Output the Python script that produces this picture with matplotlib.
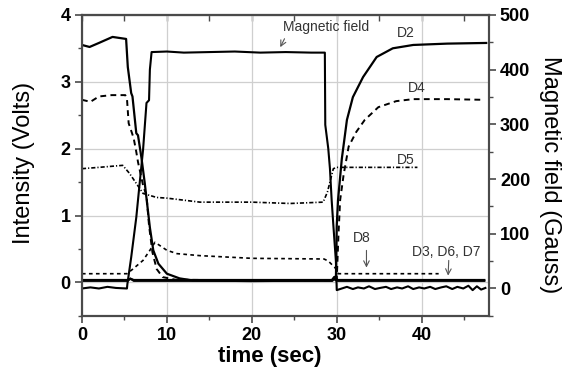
import matplotlib.pyplot as plt
from matplotlib.ticker import MultipleLocator

plt.rcParams['font.family'] = ['Liberation Sans', 'DejaVu Sans']

# magnetic field (Gauss, right axis)
t_field = [0, 1, 2, 3, 4, 5.3, 5.35, 5.8, 6.4, 6.8, 7.2, 7.6, 7.9, 8.0, 8.2, 10,
           12, 15, 18, 21, 24, 27, 28.6, 28.65, 29.0, 29.2, 29.4, 29.6, 29.9,
           30.0, 30.6, 31.2, 31.9, 32.5, 33.2, 33.8, 34.5, 35.1, 35.8, 36.4, 37.1,
           37.7, 38.4, 39.0, 39.7, 40.3, 41.0, 41.6, 42.3, 42.9, 43.6, 44.2,
           44.9, 45.5, 46.0, 46.5, 47.0, 47.5]
b_field = [0, 2, 0, 3, 1, 0, 8, 57, 130, 193, 254, 339, 344, 400, 432, 433,
           431, 432, 433, 431, 432, 431, 431, 299, 256, 219, 162, 116, 50,
           -3, 0, 3, -1, 2, 0, 4, -1, 1, 3, -1, 2, 0, 4, -1, 2, 0, 3, -1, 2,
           4, -1, 3, 0, 5, -3, 4, -2, 1]

# D2 (Volts)
t_d2 = [0, 0.9, 2, 3.6, 5.2, 5.4, 5.8, 5.95, 6.4, 6.6, 7.0, 7.4, 8.0, 8.4, 9.0,
        10.0, 11.5, 13, 20, 29.4, 29.7, 29.9, 30.0, 30.15, 30.6, 31.2, 31.9,
        33.1, 34.7, 36.6, 39, 43, 47.6]
v_d2 = [3.55, 3.52, 3.58, 3.67, 3.64, 3.22, 2.83, 2.78, 2.23, 2.2, 1.87, 1.48,
        0.82, 0.48, 0.28, 0.13, 0.06, 0.03, 0.02, 0.03, 0.08, 0.03, 0.85, 1.23,
        1.85, 2.43, 2.77, 3.07, 3.37, 3.5, 3.55, 3.57, 3.58]

# D4
t_d4 = [0, 1, 2, 3.5, 5.1, 5.3, 5.5, 5.9, 6.1, 6.4, 6.6, 7.2, 7.6, 7.9, 8.3,
        8.8, 9.5, 11, 20, 29.5, 30.0, 30.2, 30.4, 30.8, 31.4, 32.3, 33.3, 34.9,
        37.0, 39.0, 43, 47.3]
v_d4 = [2.73, 2.70, 2.78, 2.80, 2.80, 2.75, 2.38, 2.23, 2.15, 1.95, 1.8, 1.45,
        1.3, 0.85, 0.45, 0.2, 0.08, 0.04, 0.03, 0.03, 0.05, 0.7, 1.23, 1.6, 2.03,
        2.25, 2.43, 2.62, 2.71, 2.74, 2.74, 2.73]

# D5
t_d5 = [0, 2, 4.8, 5.6, 6.4, 7.2, 8.8, 10, 13.9, 20, 24.5, 28.4, 28.9, 29.3,
        29.6, 30.0, 35, 39.5]
v_d5 = [1.70, 1.72, 1.75, 1.63, 1.48, 1.33, 1.27, 1.26, 1.2, 1.2, 1.18, 1.2,
        1.35, 1.55, 1.7, 1.72, 1.72, 1.72]

# D8
t_d8 = [0, 5.3, 6.0, 7.2, 8.0, 8.6, 10, 11.2, 13.9, 20, 28.5, 29.0, 29.8, 30.2, 42]
v_d8 = [0.13, 0.13, 0.2, 0.33, 0.48, 0.6, 0.48, 0.43, 0.4, 0.36, 0.35, 0.32,
        0.22, 0.13, 0.13]

# D3, D6, D7 (nearly flat)
t_low = [0, 5.4, 5.7, 6.1, 29.5, 29.8, 30.1, 47.4]
v_d3 = [0.02, 0.02, 0.05, 0.02, 0.02, 0.07, 0.02, 0.02]
v_d6 = [0.03, 0.03, 0.06, 0.03, 0.03, 0.08, 0.03, 0.03]
v_d7 = [0.04, 0.04, 0.06, 0.04, 0.04, 0.09, 0.04, 0.04]

fig = plt.figure(figsize=(5.69, 3.81), dpi=100)
ax = fig.add_axes([0.144, 0.171, 0.715, 0.79])
ax2 = ax.twinx()

spine_c = '#4a4a4a'
grid_c = '#cfcfcf'

ax.set_xlim(0, 47.9)
ax.set_ylim(-0.5, 4)
ax2.set_ylim(-50, 500)

ax.xaxis.set_major_locator(MultipleLocator(10))
ax.xaxis.set_minor_locator(MultipleLocator(5))
ax.yaxis.set_major_locator(MultipleLocator(1))
ax.yaxis.set_minor_locator(MultipleLocator(0.5))
ax2.yaxis.set_major_locator(MultipleLocator(100))
ax2.yaxis.set_minor_locator(MultipleLocator(50))

ax.grid(True, which='major', color=grid_c, lw=0.9)
ax.set_axisbelow(True)

ax.plot(t_low, v_d3, color='black', lw=1.2)
ax.plot(t_low, v_d6, color='black', lw=1.2)
ax.plot(t_low, v_d7, color='black', lw=1.2)
ax.plot(t_d8, v_d8, color='black', lw=1.2, ls=(0, (2.2, 2)))
ax.plot(t_d5, v_d5, color='black', lw=1.2, ls=(0, (2.5, 1.2, 0.7, 1.2)))
ax.plot(t_d4, v_d4, color='black', lw=1.4, ls=(0, (3, 2.2)))
ax.plot(t_d2, v_d2, color='black', lw=1.6)
ax2.plot(t_field, b_field, color='black', lw=1.5)

for a in (ax, ax2):
    for s in a.spines.values():
        s.set_color(spine_c)
        s.set_linewidth(1.5)
ax.spines['bottom'].set_color('black')

ax.tick_params(which='major', length=5, width=1.2, color=spine_c, labelsize=13, pad=3)
ax.tick_params(which='minor', length=3, width=1.0, color=spine_c)
ax2.tick_params(which='major', length=5, width=1.2, color=spine_c, labelsize=13, pad=3)
ax2.tick_params(which='minor', length=3, width=1.0, color=spine_c)
for lab in ax.get_xticklabels() + ax.get_yticklabels() + ax2.get_yticklabels():
    lab.set_fontweight('bold')

top = ax.secondary_xaxis('top')
top.xaxis.set_major_locator(MultipleLocator(10))
top.xaxis.set_minor_locator(MultipleLocator(5))
top.tick_params(which='both', direction='in', length=4, width=1.0, color=spine_c,
                labeltop=False)
top.spines['top'].set_color(spine_c)
top.spines['top'].set_linewidth(1.5)

ax.set_xlabel('time (sec)', fontsize=16, fontweight='bold', va='center')
ax.xaxis.set_label_coords(0.462, -0.136)
ax.set_ylabel('Intensity (Volts)', fontsize=17, va='center', ha='center')
ax.yaxis.set_label_coords(-0.1425, 0.508)
ax2.set_ylabel('Magnetic field (Gauss)', fontsize=17, rotation=270,
               va='center', ha='center')
ax2.yaxis.set_label_coords(1.150, 0.468)

txt_c = '#333333'
arr = dict(arrowstyle='->', color='#555555', lw=0.8)
ax.text(23.7, 3.82, 'Magnetic field', fontsize=10, color=txt_c, va='center')
ax.annotate('', xy=(23.2, 3.48), xytext=(24.0, 3.68), arrowprops=arr)
ax.text(38.1, 3.73, 'D2', fontsize=10, color=txt_c, ha='center', va='center')
ax.text(39.4, 2.91, 'D4', fontsize=10, color=txt_c, ha='center', va='center')
ax.text(38.1, 1.83, 'D5', fontsize=10, color=txt_c, ha='center', va='center')
ax.text(33.0, 0.67, 'D8', fontsize=10, color=txt_c, ha='center', va='center')
ax.annotate('', xy=(33.5, 0.18), xytext=(33.5, 0.52), arrowprops=arr)
ax.text(42.9, 0.45, 'D3, D6, D7', fontsize=10, color=txt_c, ha='center', va='center')
ax.annotate('', xy=(43.1, 0.06), xytext=(43.2, 0.37), arrowprops=arr)

fig.savefig('out.png', dpi=100)
